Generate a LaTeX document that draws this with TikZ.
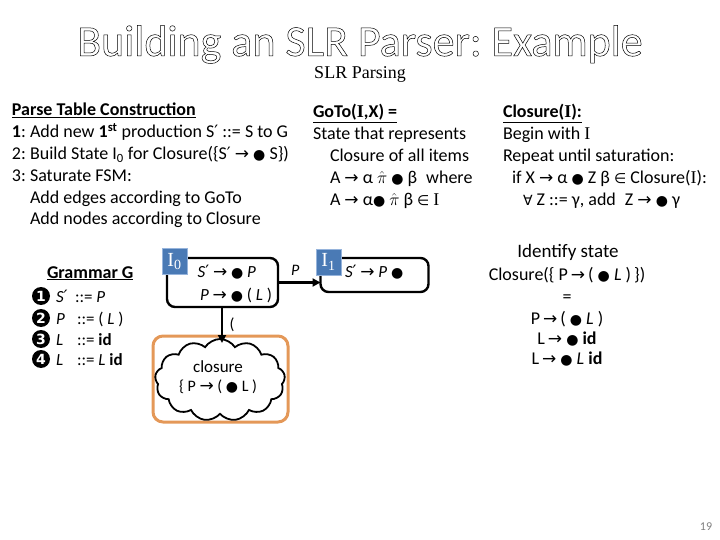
\documentclass[tikz,border=0pt]{standalone}
\usepackage{fontspec}
\setmainfont{Carlito}
\newfontfamily\sym{DejaVu Sans}
\newfontfamily\serifI{Liberation Serif}
\usetikzlibrary{shapes.symbols,arrows.meta}
\newcommand\myarr{{\sym\fontsize{17}{17}\selectfont →}}
\newcommand\mydot{{\sym\fontsize{14}{14}\selectfont ●}}
\newcommand\myprime{{\sym\fontsize{17}{17}\selectfont ′}}
\newcommand\pihat{\smash{$\hat{\pi}$}}
\newcommand\outlinetext[1]{\special{pdf:literal direct 1 Tr 0.5 w}#1\special{pdf:literal direct 0 Tr}}
\definecolor{lblblue}{RGB}{74,122,181}
\definecolor{lblborder}{RGB}{150,180,220}
\definecolor{orng}{RGB}{228,152,88}
\frenchspacing
\begin{document}
\begin{tikzpicture}[x=1pt,y=-1pt,
  every node/.style={inner sep=0pt, outer sep=0pt},
  txt/.style={anchor=base west, font=\fontsize{18}{18}\selectfont},
  ctxt/.style={anchor=base, font=\fontsize{18}{18}\selectfont},
  stxt/.style={anchor=base west, font=\fontsize{17}{17}\selectfont},
  statebox/.style={draw=black, line width=2.4, rounded corners=8},
  lbl/.style={fill=lblblue, draw=lblborder, line width=0.6, minimum width=25, minimum height=26, text=white, font=\serifI\fontsize{20}{20}\selectfont},
  numc/.style={circle, fill=black, text=white, minimum size=18, font=\sym\fontsize{14}{14}\selectfont\bfseries},
  conn/.style={line width=2.2, -{Triangle[length=8,width=8]}}
]
\useasboundingbox (0,0) rectangle (720,540);
% title
\node[anchor=base, font=\fontsize{44}{44}\selectfont] (title) at (360,56)
  {\outlinetext{Building an SLR Parser: Example}};
\node[anchor=base, font=\serifI\fontsize{18}{18}\selectfont] (sub) at (360,79) {SLR Parsing};
% left block
\node[txt] (l0) at (12,116) {\bfseries\underline{Parse Table Construction}};
\node[txt] (l1) at (12,138) {\textbf{1}: Add new \textbf{1\textsuperscript{st}} production S\myprime{} ::= S to G};
\node[txt] (l2) at (12,160) {2: Build State I\textsubscript{0} for Closure(\{S\myprime{} \myarr{} \mydot{} S\})};
\node[txt] (l3) at (12,182) {3: Saturate FSM:};
\node[txt] (l4) at (30,204) {Add edges according to GoTo};
\node[txt] (l5) at (30,225) {Add nodes according to Closure};
% goto block
\node[txt] (g0) at (313,118) {\bfseries\underline{GoTo({\serifI I},X) =}};
\node[txt] (g1) at (313,140) {State that represents};
\node[txt] (g2) at (330,162) {Closure of all items};
\node[txt] (g3) at (330,184) {A \myarr{} α \pihat{} \mydot{} β\enspace where};
\node[txt] (g4) at (330,206) {A \myarr{} α\mydot{} \pihat{} β {\sym\fontsize{14}{14}\selectfont ∈} {\serifI I}};
% closure block
\node[txt] (c0) at (503,118) {\bfseries\underline{Closure({\serifI I}):}};
\node[txt] (c1) at (503,140) {Begin with {\serifI I}};
\node[txt] (c2) at (503,162) {Repeat until saturation:};
\node[txt] (c3) at (512,184) {if X \myarr{} α \mydot{} Z β {\sym\fontsize{14}{14}\selectfont ∈} Closure({\serifI I}):};
\node[txt] (c4) at (523,206) {{\sym\fontsize{14}{14}\selectfont ∀} Z ::= γ, add\enspace Z \myarr{} \mydot{} γ};
% grammar
\node[txt] (gr) at (47,278) {\bfseries\underline{Grammar G}};
\node[numc] (n1) at (41,296) {1};
\node[numc] (n2) at (41,318) {2};
\node[numc] (n3) at (41,339) {3};
\node[numc] (n4) at (41,359) {4};
\node[stxt] (r1) at (56,302) {\itshape S\myprime};
\node[stxt] (r1b) at (75,302) {::= \textit{P}};
\node[stxt] (r2) at (56,324) {\itshape P};
\node[stxt] (r2b) at (77,324) {::= ( \textit{L} )};
\node[stxt] (r3) at (56,345) {\itshape L};
\node[stxt] (r3b) at (77,345) {::= \textbf{id}};
\node[stxt] (r4) at (56,365) {\itshape L};
\node[stxt] (r4b) at (77,365) {::= \textit{L} \textbf{id}};
% state I0
\node[statebox, minimum width=111, minimum height=49] (s0) at (222.5,282.5) {};
\node[lbl] (s0l) at (174.5,261.5) {I\textsubscript{0}};
\node[stxt, anchor=base east] (s0a) at (256,277) {\textit{S}\myprime{} \myarr{} \mydot{} \textit{P}};
\node[stxt, anchor=base east] (s0b) at (272,300) {\textit{P} \myarr{} \mydot{} ( \textit{L} )};
% state I1
\node[statebox, minimum width=108, minimum height=34] (s1) at (374.5,275) {};
\node[lbl] (s1l) at (328.5,262) {I\textsubscript{1}};
\node[stxt] (s1a) at (345,277) {\textit{S}\myprime{} \myarr{} \textit{P} \mydot};
\draw[conn] (s0.east) -- (s0.east -| s1.west) node[midway, above=7pt, xshift=-4pt, font=\fontsize{16}{16}\selectfont\itshape] (pl) {P};
% closure box
\node[draw=orng, line width=3, rounded corners=10, minimum width=135, minimum height=86] (ob) at (220.5,379) {};
\node[cloud, cloud puffs=13, cloud puff arc=115, aspect=1.65, draw=black, line width=1.8, minimum width=130, minimum height=82] (cl) at (220,380) {};
\node[anchor=base, font=\fontsize{17}{17}\selectfont] (clt) at (218,372) {closure};
\node[anchor=base, font=\fontsize{16}{16}\selectfont] (clt2) at (218,391) {\{ P \myarr{} ( \mydot{} L )};
\draw[conn] (s0.south -| 222,0) -- (222,343) coordinate (ct);
\node[anchor=base, font=\fontsize{16}{16}\selectfont] (lp) at (232,329) {(};
% right text
\node[ctxt, font=\fontsize{19}{19}\selectfont] (i0) at (568,258) {Identify state};
\node[ctxt] (i1) at (567,280) {Closure(\{ P\,\myarr{}\,( \mydot{} \textit{L} )\,\})};
\node[ctxt] (i2) at (567,302) {=};
\node[ctxt] (i3) at (567,324) {P\,\myarr{}\,( \mydot{} \textit{L} )};
\node[ctxt] (i4) at (567,344) {L\,\myarr{} \mydot{} \textbf{id}};
\node[ctxt] (i5) at (567,364) {L\,\myarr{} \mydot{} \textit{L} \textbf{id}};
% page number
\node[anchor=base, font=\fontsize{12}{12}\selectfont, text=gray] (pg) at (706,530) {19};
\end{tikzpicture}
\end{document}
